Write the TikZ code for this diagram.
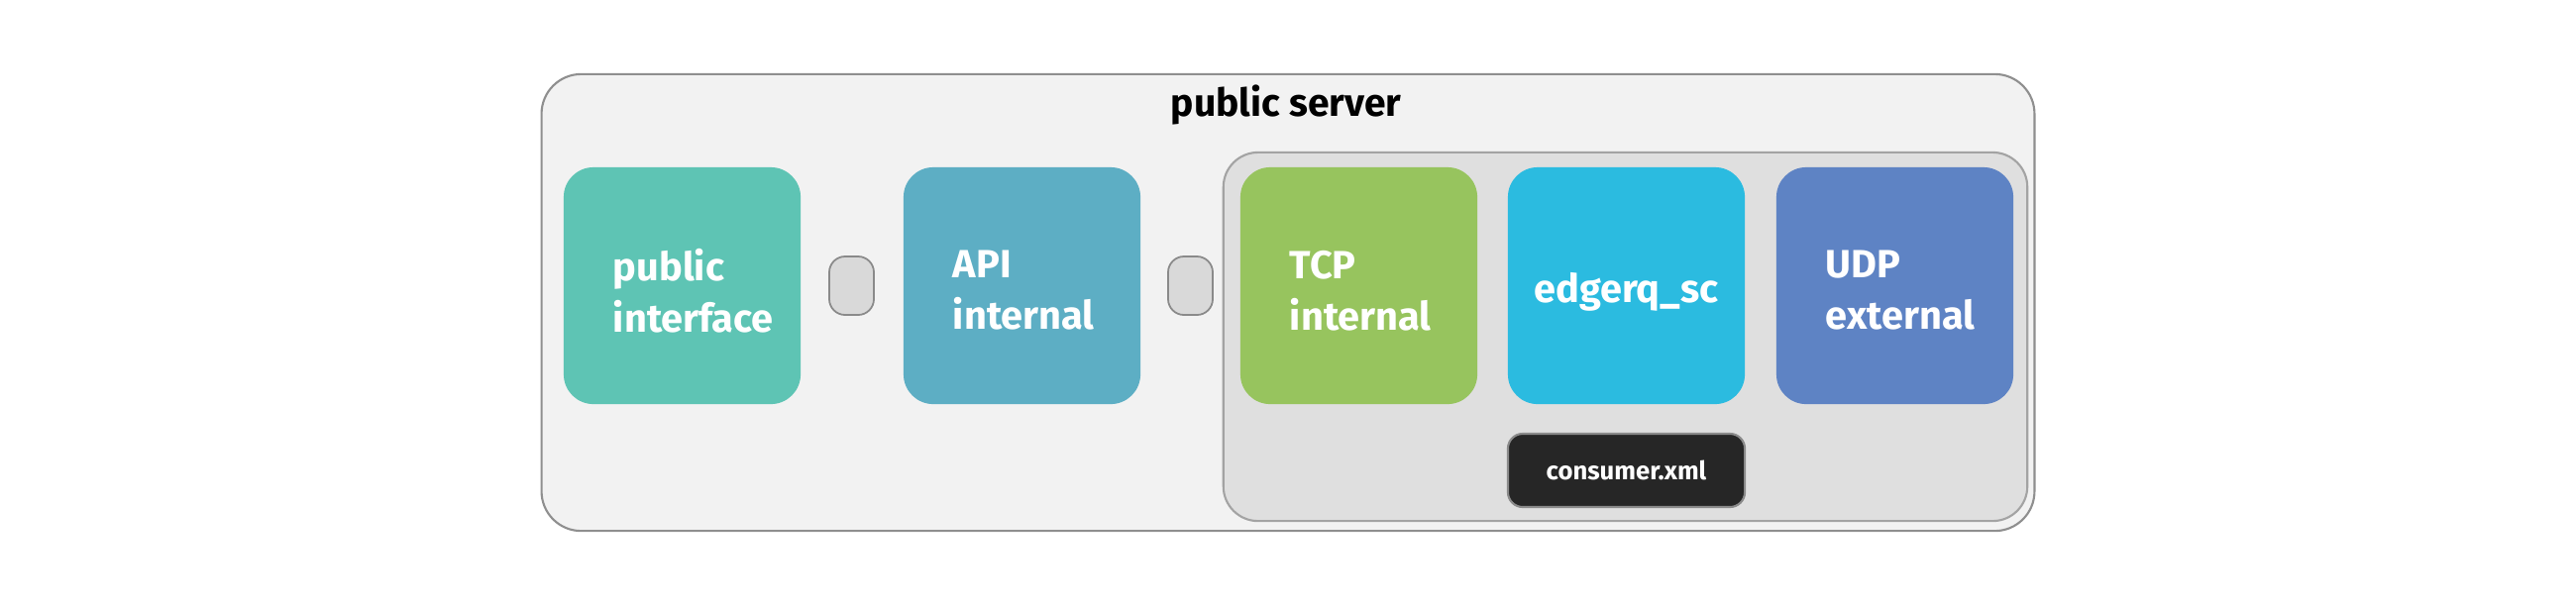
\documentclass[tikz,border=0pt]{standalone}
\usepackage{fontspec}
\setmainfont{Fira Sans}[BoldFont={Fira Sans Bold}]
\definecolor{outerfill}{HTML}{F2F2F2}
\definecolor{outerdraw}{HTML}{8F8F8F}
\definecolor{innerfill}{HTML}{DFDFDF}
\definecolor{innerdraw}{HTML}{A3A3A3}
\definecolor{portfill}{HTML}{D9D9D9}
\definecolor{portdraw}{HTML}{8A8A8A}
\definecolor{cteal}{HTML}{5EC4B4}
\definecolor{cblue}{HTML}{5DAEC4}
\definecolor{cgreen}{HTML}{97C45E}
\definecolor{ccyan}{HTML}{2BBBE0}
\definecolor{cnavy}{HTML}{5E83C4}
\definecolor{cdark}{HTML}{262626}
\begin{document}
\begin{tikzpicture}[x=0.01cm,y=-0.01cm,
  svc/.style={rectangle, rounded corners=0.3cm, minimum width=2.39cm, minimum height=2.39cm, inner sep=0pt, draw=none},
  lbl/.style={anchor=west, inner sep=0pt, text=white, font=\bfseries\fontsize{11.3}{14.8}\selectfont, align=left},
  port/.style={rectangle, rounded corners=0.16cm, minimum width=0.45cm, minimum height=0.59cm, inner sep=0pt, fill=portfill, draw=portdraw, line width=0.5pt}
]
\useasboundingbox (0,0) rectangle (2600,614);
\node[rectangle, rounded corners=0.4cm, minimum width=15.06cm, minimum height=4.61cm, fill=outerfill, draw=outerdraw, line width=0.6pt] (server) at (1300,305.5) {};
\node[inner sep=0pt, font=\bfseries\fontsize{11.1}{13}\selectfont] (title) at (1298,106) {public server};
\node[rectangle, rounded corners=0.35cm, minimum width=8.11cm, minimum height=3.72cm, fill=innerfill, draw=innerdraw, line width=0.6pt] (group) at (1640.5,340) {};
\node[svc, fill=cteal] (pi) at (688.5,288.5) {};
\node[svc, fill=cblue] (api) at (1031.5,288.5) {};
\node[svc, fill=cgreen] (tcp) at (1371.5,288.5) {};
\node[svc, fill=ccyan] (edge) at (1641.5,288.5) {};
\node[svc, fill=cnavy] (udp) at (1912.5,288.5) {};
\node[lbl] (pil) at ([xshift=0.5cm,yshift=-0.05cm]pi.west) {public\\interface};
\node[lbl] (apil) at ([xshift=0.5cm,yshift=-0.05cm]api.west) {API\\internal};
\node[lbl] (tcpl) at ([xshift=0.5cm,yshift=-0.05cm]tcp.west) {TCP\\internal};
\node[lbl, anchor=center] (edgel) at ([yshift=-0.065cm]edge.center) {edgerq\_sc};
\node[lbl] (udpl) at ([xshift=0.5cm,yshift=-0.05cm]udp.west) {UDP\\external};
\node[port] (p1) at (859.5,288.5) {};
\node[port] (p2) at (1201.5,288.5) {};
\node[rectangle, rounded corners=0.15cm, minimum width=2.39cm, minimum height=0.74cm, inner sep=0pt, fill=cdark, draw=portdraw, line width=0.6pt, text=white, font=\bfseries\fontsize{7.3}{9}\selectfont] (xml) at (1641.5,475) {consumer.xml};
\end{tikzpicture}
\end{document}
